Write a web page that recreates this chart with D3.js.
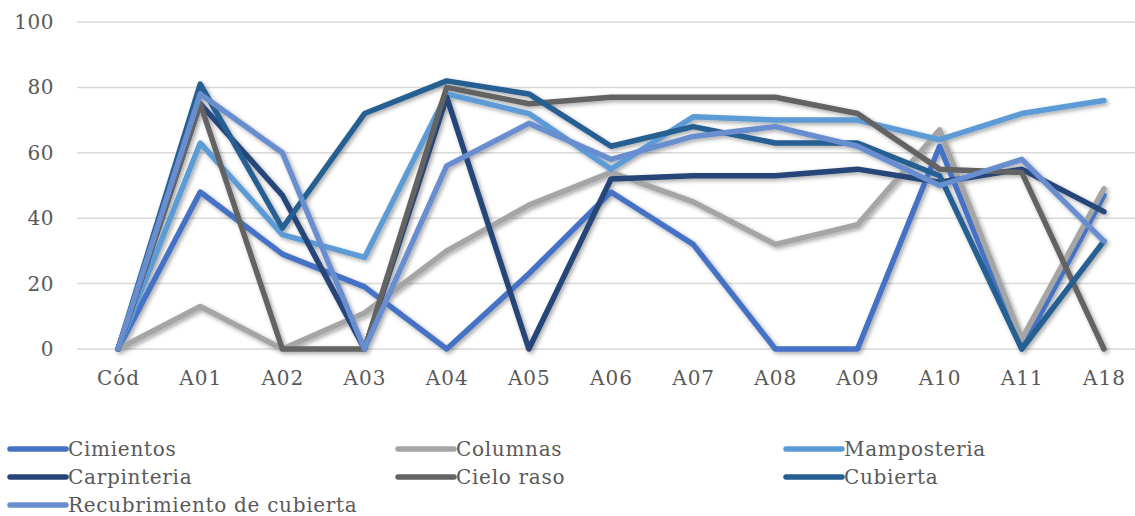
<!DOCTYPE html>
<html>
<head>
<meta charset="utf-8">
<script src="https://cdn.jsdelivr.net/npm/d3@7"></script>
<style>
    body { margin: 0; background: #fff; }
    svg { display: block; }
    text { font-family: "DejaVu Serif", serif; fill: #595959; }
</style>
</head>
<body>
<div id="grafico"></div>
<script>
// categorias del eje x
var categorias = ["Cód", "A01", "A02", "A03", "A04", "A05", "A06", "A07", "A08", "A09", "A10", "A11", "A18"];
var ticksY = [0, 20, 40, 60, 80, 100];

var cimientos = [0, 48, 29, 19, 0, 23, 48, 32, 0, 0, 62, 0, 47];
var columnas = [0, 13, 0, 11, 30, 44, 54, 45, 32, 38, 67, 3, 49];
var mamposteria = [0, 63, 35, 28, 78, 72, 55, 71, 70, 70, 64, 72, 76];
var carpinteria = [0, 75, 47, 0, 77, 0, 52, 53, 53, 55, 51, 55, 42];
var cieloRaso = [0, 75, 0, 0, 80, 75, 77, 77, 77, 72, 55, 54, 0];
var cubierta = [0, 81, 37, 72, 82, 78, 62, 68, 63, 63, 53, 0, 33];
var recubrimiento = [0, 78, 60, 0, 56, 69, 58, 65, 68, 62, 50, 58, 33];

var series = [
    { nombre: "Cimientos", valores: cimientos, color: "#4472C4" },
    { nombre: "Columnas", valores: columnas, color: "#A5A5A5" },
    { nombre: "Mamposteria", valores: mamposteria, color: "#5B9BD5" },
    { nombre: "Carpinteria", valores: carpinteria, color: "#264478" },
    { nombre: "Cielo raso", valores: cieloRaso, color: "#636363" },
    { nombre: "Cubierta", valores: cubierta, color: "#255E91" },
    { nombre: "Recubrimiento de cubierta", valores: recubrimiento, color: "#698ED0" }
];

var width = 1135, height = 516;

var svg = d3.select("#grafico").append("svg")
    .attr("width", width)
    .attr("height", height);

// sombra de las lineas (como en excel)
var filtro = svg.append("defs").append("filter")
    .attr("id", "sombra")
    .attr("x", "-10%").attr("y", "-10%")
    .attr("width", "120%").attr("height", "120%");
filtro.append("feDropShadow")
    .attr("dx", 2).attr("dy", 2)
    .attr("stdDeviation", 2)
    .attr("flood-color", "#000")
    .attr("flood-opacity", 0.35);

var x = d3.scalePoint()
    .domain(categorias)
    .range([77, 1145])
    .padding(0.5);

var y = d3.scaleLinear()
    .domain([0, 100])
    .range([349, 22]);

// grilla horizontal
svg.append("g")
    .selectAll("line")
    .data(ticksY)
    .enter().append("line")
    .attr("x1", 77)
    .attr("x2", width)
    .attr("y1", function (d) { return y(d); })
    .attr("y2", function (d) { return y(d); })
    .attr("stroke", "#D9D9D9")
    .attr("stroke-width", 1.5);

// etiquetas eje y
var ejeY = svg.append("g")
    .attr("transform", "translate(62,0)")
    .call(d3.axisLeft(y).tickValues(ticksY).tickSize(0).tickPadding(8));
ejeY.select(".domain").remove();
ejeY.selectAll("text")
    .style("font-size", "20px")
    .style("font-family", "DejaVu Serif")
    .style("letter-spacing", "0.5px")
    .attr("fill", "#595959");

// etiquetas eje x
var ejeX = svg.append("g")
    .attr("transform", "translate(0,349)")
    .call(d3.axisBottom(x).tickSize(0).tickPadding(22));
ejeX.select(".domain").remove();
ejeX.selectAll("text")
    .style("font-size", "20px")
    .style("font-family", "DejaVu Serif")
    .style("letter-spacing", "1px")
    .attr("fill", "#595959");

var linea = d3.line()
    .x(function (d, i) { return x(categorias[i]); })
    .y(function (d) { return y(d); });

svg.append("g")
    .attr("filter", "url(#sombra)")
    .selectAll("path")
    .data(series)
    .enter().append("path")
    .attr("d", function (s) { return linea(s.valores); })
    .attr("fill", "none")
    .attr("stroke", function (s) { return s.color; })
    .attr("stroke-width", 5.5)
    .attr("stroke-linejoin", "round")
    .attr("stroke-linecap", "round");

// leyenda, 3 columnas
var leyenda = svg.append("g")
    .selectAll("g")
    .data(series)
    .enter().append("g")
    .attr("transform", function (s, i) {
        var col = i % 3, fila = Math.floor(i / 3);
        return "translate(" + (8 + col * 388) + "," + (449 + fila * 28) + ")";
    });

leyenda.append("line")
    .attr("x1", 2).attr("x2", 58)
    .attr("y1", 0).attr("y2", 0)
    .attr("stroke", function (s) { return s.color; })
    .attr("stroke-width", 5.5)
    .attr("stroke-linecap", "round");

leyenda.append("text")
    .attr("x", 60)
    .attr("y", 0)
    .attr("dy", ".33em")
    .style("font-size", "20px")
    .style("letter-spacing", "0.7px")
    .text(function (s) { return s.nombre; });
</script>
</body>
</html>
